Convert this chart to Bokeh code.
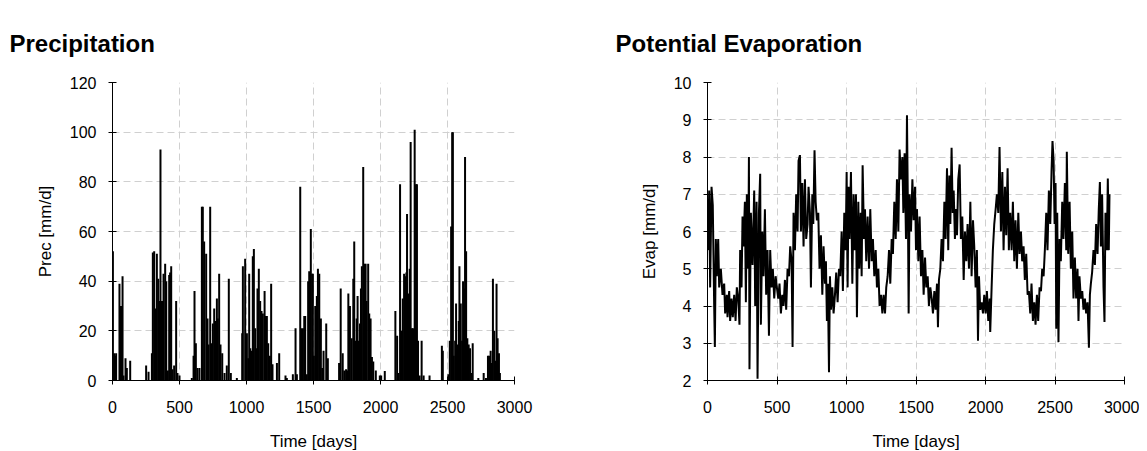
from bokeh.plotting import figure
from bokeh.layouts import row
from bokeh.models import Range1d, FixedTicker, Title
from bokeh.embed import file_html
from bokeh.resources import INLINE

# ---------------- data ----------------
prec_days = [3, 12, 22, 27, 52, 60, 67, 75, 82, 97, 107, 132,
             251, 269, 294, 301, 311, 318, 331, 341, 348, 358, 366, 376, 381, 393, 401, 413,
             423, 430, 438, 448, 460, 475, 485, 500,
             592, 605, 612, 622, 634, 649, 667, 674, 684, 699, 709, 717, 729, 739, 749, 759,
             766, 779, 786, 796, 806, 819, 836, 853, 868, 883, 928,
             968, 973, 990, 1003, 1013, 1020, 1028, 1040, 1047, 1055, 1065, 1075, 1082, 1092,
             1102, 1112, 1122, 1135, 1144, 1152, 1162, 1174, 1184, 1194, 1227, 1244, 1291, 1301,
             1346, 1366, 1376, 1401, 1408, 1421, 1431, 1438, 1450, 1460, 1468, 1480, 1490, 1495,
             1503, 1513, 1525, 1533, 1543, 1555, 1565, 1575, 1595, 1607,
             1691, 1703, 1718, 1730, 1743, 1752, 1760, 1772, 1785, 1797, 1804, 1812, 1822, 1829,
             1837, 1847, 1854, 1861, 1871, 1879, 1889, 1896, 1908, 1916, 1926, 1936, 1946, 1965,
             1995, 2005, 2032,
             2111, 2124, 2134, 2146, 2156, 2166, 2176, 2183, 2193, 2198, 2208, 2218, 2225, 2235,
             2243, 2255, 2265, 2272, 2280, 2292, 2307, 2322, 2366,
             2458, 2465, 2507, 2517, 2527, 2535, 2540, 2547, 2557, 2564, 2574, 2584, 2589, 2599,
             2609, 2616, 2624, 2631, 2639, 2648, 2658, 2668, 2678, 2688, 2730, 2770, 2787,
             2802, 2812, 2822, 2832, 2839, 2849, 2859, 2866, 2874, 2884, 2891]
prec_vals = [52, 11, 10, 11, 39, 30, 30, 42, 2, 9, 5, 8,
             6, 3.5, 11, 51.5, 52, 29, 51, 41, 32, 93, 32, 32, 43, 47, 40, 4,
             42.5, 43.5, 46, 4.5, 6, 32, 3, 2,
             1, 10, 36, 15, 5, 5, 70, 70, 56, 51, 25, 14.5, 70, 15, 23, 29,
             24, 33, 25, 43, 14.5, 11, 3, 6, 41, 3, 1,
             19, 46, 49, 19, 9, 43, 13, 12, 50, 53, 21, 13, 37, 45,
             32, 28, 27, 36, 26, 26, 15, 10, 39, 6.5, 7, 11, 2, 1,
             2.5, 21, 2.5, 78, 21, 21, 26, 26, 2.5, 40, 44, 61, 43, 43,
             10, 30, 34, 45, 43, 25, 5, 12, 23, 9,
             7, 37, 11, 4, 4.5, 4, 35, 30, 17, 41, 56, 16, 25, 34,
             16, 23, 37, 46, 86, 47, 47, 32, 47, 27, 25, 9.5, 7.7, 4,
             2, 2, 3.8,
             28, 18, 3, 79, 20, 33, 43, 42, 43.5, 67, 35, 45, 96, 21,
             21, 101, 79, 79, 16, 2, 16, 2, 2,
             14, 12, 2.5, 16, 62, 100, 100, 10, 16, 31, 14.5, 24, 46, 31,
             16, 40, 37, 90, 52, 17, 14.5, 13, 3, 15, 1, 3, 1,
             10, 10, 12, 7, 41, 20, 8, 39, 17, 11, 3]

evap_days = [5, 12, 19, 29, 38, 48, 53, 60, 67, 77, 84, 96, 108, 120, 127, 139, 144, 156,
             163, 173, 182, 192, 202, 211, 221, 230, 235, 245, 252, 259, 269, 276, 283, 293,
             298, 302, 312, 324, 336, 343, 353, 360, 370, 379, 384, 394, 403, 413, 422, 432,
             442, 451, 461, 470, 480, 490, 499, 509, 518, 528, 538, 547, 557, 566, 576, 586,
             595, 605, 612, 619, 629, 638, 648, 655, 665, 672, 682, 691, 701, 710, 720, 727,
             737, 744, 754, 761, 770, 778, 787, 797, 806, 816, 826, 835, 845, 852, 859, 866,
             874, 881, 888, 898, 907, 917, 926, 936, 946, 955, 965, 974, 984, 994, 1001, 1008,
             1015, 1022, 1032, 1042, 1051, 1058, 1068, 1075, 1085, 1092, 1102, 1109, 1116, 1126,
             1133, 1142, 1152, 1162, 1171, 1181, 1190, 1200, 1210, 1219, 1229, 1238, 1248, 1258,
             1267, 1277, 1286, 1296, 1306, 1315, 1325, 1334, 1344, 1354, 1363, 1373, 1382, 1392,
             1402, 1409, 1418, 1428, 1435, 1442, 1447, 1454, 1464, 1474, 1483, 1493,
             1500, 1507, 1517, 1526, 1536, 1546, 1555, 1565, 1574, 1584, 1593, 1603, 1613, 1622,
             1632, 1641, 1651, 1658, 1665, 1675, 1684, 1694, 1704, 1713, 1723, 1732, 1740, 1747,
             1756, 1764, 1771, 1780, 1788, 1795, 1804, 1814, 1823, 1833, 1843, 1852, 1862, 1871,
             1881, 1891, 1900, 1910, 1919, 1929, 1938, 1946, 1953, 1962, 1972, 1982, 1991, 2001,
             2010, 2020, 2030, 2034, 2044, 2053, 2063, 2073, 2082, 2092, 2101, 2111, 2121, 2130,
             2140, 2149, 2159, 2168, 2178, 2188, 2197, 2207, 2216, 2226, 2236, 2245, 2255, 2264,
             2274, 2283, 2293, 2303, 2312, 2322, 2331, 2341, 2351, 2360, 2370, 2379, 2389, 2399,
             2408, 2418, 2427, 2437, 2446, 2456, 2466, 2475, 2482, 2490, 2497, 2504, 2509, 2516,
             2525, 2533, 2542, 2552, 2561, 2571, 2581, 2585, 2595, 2605, 2614, 2624, 2633, 2643,
             2652, 2662, 2669, 2676, 2686, 2696, 2705, 2715, 2724, 2734, 2744, 2751, 2758, 2767,
             2777, 2787, 2796, 2806, 2815, 2823, 2830, 2839, 2849, 2856, 2863, 2873, 2880, 2887,
             2892]
evap_vals = [5.5, 7.1, 4.5, 7.2, 6.7, 4.0, 2.9, 5.8, 4.8, 5.8, 4.5, 5.0, 4.3, 4.6, 3.8, 4.3, 3.7, 4.4,
             3.6, 4.2, 3.7, 4.3, 3.6, 4.5, 4.2, 3.5, 5.5, 4.5, 6.4, 5.6, 6.8, 4.1, 7.0, 5.0,
             8.0, 2.3, 6.5, 5.1, 7.1, 4.0, 6.8, 2.05, 6.5, 7.55, 3.5, 6.0, 4.8, 6.6, 4.3, 5.5,
             3.2, 5.5, 4.5, 5.0, 4.2, 4.8, 4.5, 4.2, 4.6, 3.8, 4.3, 4.0, 4.7, 3.9, 5.0, 4.8,
             5.6, 5.2, 2.9, 6.5, 5.5, 7.0, 6.0, 7.9, 8.05, 6.0, 7.3, 5.6, 7.4, 5.8, 6.2, 7.2,
             6.5, 4.5, 7.0, 6.2, 8.18, 6.8, 6.3, 6.5, 5.0, 5.9, 4.3, 5.6, 4.6, 5.2, 3.6, 4.6,
             2.22, 4.8, 3.9, 4.5, 3.8, 4.3, 4.9, 4.1, 5.0, 4.8, 6.0, 4.4, 6.5, 5.5, 7.6, 4.5,
             7.2, 5.8, 7.6, 4.6, 7.0, 5.5, 7.0, 3.7, 6.8, 5.0, 6.5, 4.8, 7.78, 5.8,
             6.6, 5.2, 6.4, 5.0, 6.6, 5.2, 5.8, 4.8, 5.5, 4.5, 5.0, 4.0, 4.3, 3.8,
             4.3, 3.8, 4.5, 4.8, 5.5, 4.6, 5.8, 5.4, 6.8, 5.8, 7.4, 6.0, 8.2, 7.4,
             8.0, 6.5, 8.1, 5.8, 9.12, 6.5, 3.8, 7.0, 6.0, 7.4, 6.3, 7.2,
             5.5, 6.6, 5.2, 6.4, 4.8, 5.5, 4.3, 5.3, 4.5, 4.8, 4.0, 4.5, 4.2, 3.8,
             4.4, 3.9, 4.6, 3.43, 4.7, 5.0, 5.8, 5.2, 6.8, 5.8, 7.7, 5.5, 7.5, 6.2,
             8.25, 6.5, 7.1, 5.8, 6.6, 5.9, 7.4, 7.8, 5.8, 6.4, 4.7, 6.0, 5.2, 6.2,
             5.0, 6.8, 4.8, 6.3, 5.6, 4.5, 5.5, 3.07, 4.8, 3.9, 4.1, 3.8, 4.3, 3.8,
             4.4, 3.6, 4.2, 3.3, 4.5, 5.5, 6.2, 6.6, 7.0, 6.5, 8.27, 6.0, 7.6, 5.5,
             7.2, 5.9, 7.7, 5.5, 6.5, 5.5, 6.8, 5.2, 6.3, 5.0, 6.5, 5.4, 6.0, 5.2,
             5.6, 4.7, 5.4, 4.3, 4.4, 3.8, 4.6, 3.6, 4.1, 3.5, 4.3, 3.6, 4.5, 4.4,
             5.0, 4.8, 5.5, 6.5, 5.5, 7.1, 6.2, 7.6, 8.43, 7.9, 6.2, 7.3, 3.39, 6.5,
             3.03, 5.8, 5.2, 6.8, 5.8, 7.3, 5.5, 8.14, 5.4, 6.8, 5.0, 6.0, 4.2, 5.3,
             4.2, 5.0, 3.6, 4.8, 4.2, 4.4, 3.9, 4.2, 3.8, 4.1, 2.88, 4.3, 4.6, 4.9,
             5.5, 5.1, 6.2, 5.4, 6.6, 7.33, 5.6, 7.0, 4.5, 3.57, 6.5, 5.5, 7.42, 5.5,
             7.0]

x_ticks = [0, 500, 1000, 1500, 2000, 2500, 3000]
prec_ticks = [0, 20, 40, 60, 80, 100, 120]
evap_ticks = [2, 3, 4, 5, 6, 7, 8, 9, 10]

FONT = "Liberation Sans"


def style(p, xlabel, ylabel, yticks):
    p.xaxis.ticker = FixedTicker(ticks=x_ticks)
    p.yaxis.ticker = FixedTicker(ticks=yticks)
    for ax in (p.xaxis[0], p.yaxis[0]):
        ax.axis_line_color = "black"
        ax.axis_line_width = 1
        ax.major_tick_line_color = "black"
        ax.major_tick_in = 4
        ax.major_tick_out = 4
        ax.minor_tick_line_color = None
        ax.major_label_text_font = FONT
        ax.major_label_text_font_size = "16px"
        ax.major_label_text_color = "black"
        ax.axis_label_text_font = FONT
        ax.axis_label_text_font_size = "17px"
        ax.axis_label_text_font_style = "normal"
        ax.axis_label_text_color = "black"
    p.xaxis.axis_label = xlabel
    p.yaxis.axis_label = ylabel
    p.xaxis.major_label_standoff = 16
    p.yaxis.major_label_standoff = 12
    p.xaxis.axis_label_standoff = 16
    p.yaxis.axis_label_standoff = 12
    for g in (p.xgrid[0], p.ygrid[0]):
        g.grid_line_color = "#d0d0d0"
        g.grid_line_dash = "7 4"
        g.grid_line_width = 1
    p.outline_line_color = None
    p.background_fill_color = "white"
    p.border_fill_color = "white"


# ---------------- left: precipitation ----------------
p1 = figure(output_backend="svg", toolbar_location=None,
            frame_width=402, frame_height=298,
            min_border_left=112, min_border_right=40, min_border_top=82, min_border_bottom=60,
            x_range=Range1d(0, 3000), y_range=Range1d(0, 120))
p1.title = Title(text="Precipitation", text_font=FONT, text_font_size="24px",
                 text_font_style="bold", text_color="black", align="left",
                 offset=-103, standoff=52)
style(p1, "Time [days]", "Prec [mm/d]", prec_ticks)
p1.segment(x0=prec_days, y0=[0] * len(prec_days), x1=prec_days, y1=prec_vals,
           line_color="black", line_width=2)

# ---------------- right: evaporation ----------------
p2 = figure(output_backend="svg", toolbar_location=None,
            frame_width=417, frame_height=298,
            min_border_left=153, min_border_right=15, min_border_top=82, min_border_bottom=60,
            x_range=Range1d(0, 3000), y_range=Range1d(2, 10))
p2.title = Title(text="Potential Evaporation", text_font=FONT, text_font_size="24px",
                 text_font_style="bold", text_color="black", align="left",
                 offset=-92, standoff=52)
style(p2, "Time [days]", "Evap [mm/d]", evap_ticks)
p2.line(evap_days, evap_vals, line_color="black", line_width=2)

layout = row(p1, p2)
open("out.html", "w").write(file_html(layout, INLINE))
